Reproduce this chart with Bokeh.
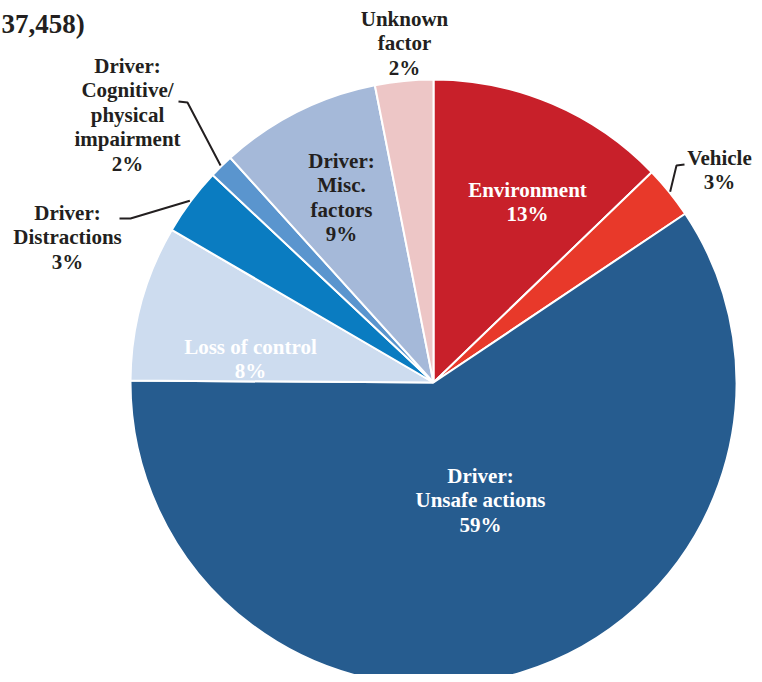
import numpy as np
from bokeh.plotting import figure
from bokeh.models import Range1d, ColumnDataSource
from bokeh.core.properties import value
from bokeh.embed import file_html
from bokeh.resources import INLINE

# ---------------- data ----------------
categories = ["Environment", "Vehicle", "Driver: Unsafe actions", "Loss of control",
              "Driver: Distractions", "Driver: Cognitive/physical impairment",
              "Driver: Misc. factors", "Unknown factor"]
shares = [12.8, 2.8, 59.5, 8.3, 3.6, 1.3, 8.6, 3.1]
pct_labels = ["13%", "3%", "59%", "8%", "3%", "2%", "9%", "2%"]
label_lines = [
    ["Environment"],
    ["Vehicle"],
    ["Driver:", "Unsafe actions"],
    ["Loss of control"],
    ["Driver:", "Distractions"],
    ["Driver:", "Cognitive/", "physical", "impairment"],
    ["Driver:", "Misc.", "factors"],
    ["Unknown", "factor"],
]
title_text = "37,458)"

# ---------------- style / layout ----------------
colors = ["#C8202A", "#E8392A", "#265C8F", "#CDDCEF",
          "#0A7CC1", "#5A95CE", "#A5B9D9", "#EDC6C6"]
text_colors = ["white", "#231F20", "white", "white",
               "#231F20", "#231F20", "#231F20", "#231F20"]
# label block anchor: (center x, first line y) in screen pixels
label_anchor = [(527, 189), (719, 157), (480, 475), (250, 346),
                (67, 212), (127, 65), (341, 160), (404, 18)]
line_step = 24.5
# leader lines: elbow and end points (screen px), None = no leader
leader_pts = [None, [(676, 165), (684, 164)], None, None,
              [(130, 218), (119, 218)], [(187, 102), (178, 101)], None, None]

W, H = 754, 674
def sy(y):
    return H - y

cx, cy, R = 433, sy(382), 303

p = figure(width=W, height=H, x_range=Range1d(0, W), y_range=Range1d(0, H),
           output_backend="svg", toolbar_location=None,
           x_axis_location=None, y_axis_location=None, min_border=0)
p.grid.visible = False
p.outline_line_color = None
p.background_fill_color = "white"
p.border_fill_color = "white"

vals = np.array(shares, dtype=float)
frac = vals / vals.sum()
cum = np.concatenate([[0.0], np.cumsum(frac)])
start = np.pi / 2 - 2 * np.pi * cum[:-1]
end = np.pi / 2 - 2 * np.pi * cum[1:]
mid = (start + end) / 2

src = ColumnDataSource(dict(x=[cx] * len(vals), y=[cy] * len(vals),
                            start=start, end=end, color=colors, cat=categories))
p.wedge(x="x", y="y", radius=R, start_angle="start", end_angle="end",
        direction="clock", fill_color="color", line_color="white", line_width=2,
        source=src)

# leader lines
xs, ys = [], []
for i, pts in enumerate(leader_pts):
    if pts is None:
        continue
    x0 = cx + (R + 1) * np.cos(mid[i])
    y0 = cy + (R + 1) * np.sin(mid[i])
    xs.append([x0] + [q[0] for q in pts])
    ys.append([y0] + [sy(q[1]) for q in pts])
p.multi_line(xs=xs, ys=ys, line_color="#231F20", line_width=2)

# labels
tx, ty, tt, tc = [], [], [], []
for i in range(len(categories)):
    lines = label_lines[i] + [pct_labels[i]]
    ax, ay = label_anchor[i]
    for k, ln in enumerate(lines):
        tx.append(ax)
        ty.append(sy(ay + k * line_step))
        tt.append(ln)
        tc.append(text_colors[i])
p.text(x=tx, y=ty, text=tt, text_color=tc, text_align="center",
       text_baseline="middle", text_font=value("Liberation Serif"),
       text_font_style="bold", text_font_size="21px")

p.text(x=[1], y=[sy(23)], text=[title_text], text_color="#231F20",
       text_align="left", text_baseline="alphabetic",
       text_font=value("Liberation Serif"), text_font_style="bold",
       text_font_size="27px")

open("out.html", "w").write(file_html(p, INLINE))
